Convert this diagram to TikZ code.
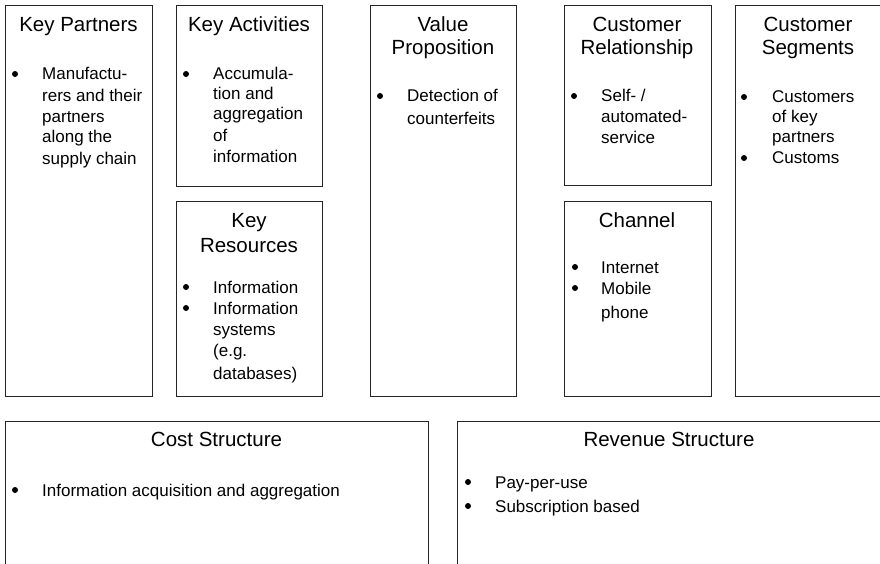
\documentclass[tikz,border=0pt]{standalone}
\usepackage{fontspec}
\setmainfont{Liberation Sans}
\begin{document}
\begin{tikzpicture}[x=1pt,y=-1pt,
  blockbox/.style={draw=black!85,line width=0.9pt},
  heading/.style={inner sep=0pt,anchor=base,font=\fontsize{20.5}{22}\selectfont},
  itemtext/.style={inner sep=0pt,anchor=base west,font=\fontsize{17}{19}\selectfont},
  bulletdot/.style={circle,fill=black,inner sep=0pt,minimum size=6pt}]
\useasboundingbox (0,0) rectangle (880,564);
\fill[white] (0,0) rectangle (880,564);
% boxes
\draw[blockbox] (5,5) rectangle (152,396);
\node (kp) at (78.5,200) {};
\draw[blockbox] (176,5) rectangle (322,186);
\node (ka) at (249,95) {};
\draw[blockbox] (176,201) rectangle (322,396);
\node (kr) at (249,300) {};
\draw[blockbox] (370,5) rectangle (516,396);
\node (vp) at (443,200) {};
\draw[blockbox] (564,5) rectangle (711,185);
\node (cr) at (637,95) {};
\draw[blockbox] (564,201) rectangle (711,396);
\node (ch) at (637,300) {};
\draw[blockbox] (735,5) rectangle (890,396);
\node (cs) at (812,200) {};
\draw[blockbox] (5,421) rectangle (428,580);
\node (cost) at (216,490) {};
\draw[blockbox] (457,421) rectangle (890,580);
\node (rev) at (670,490) {};
% Key Partners
\node[heading] (kpt) at (78.5,32) {Key Partners};
\node[bulletdot] (kpb1) at (15,74) {};
\node[itemtext] (kp1) at (42,80) {Manufactu-};
\node[itemtext] (kp2) at (42,102) {rers and their};
\node[itemtext] (kp3) at (42,123) {partners};
\node[itemtext] (kp4) at (42,143) {along the};
\node[itemtext] (kp5) at (42,165) {supply chain};
% Key Activities
\node[heading] (kat) at (249,32) {Key Activities};
\node[bulletdot] (kab1) at (186,74) {};
\node[itemtext] (ka1) at (213,80) {Accumula-};
\node[itemtext] (ka2) at (213,100) {tion and};
\node[itemtext] (ka3) at (213,120) {aggregation};
\node[itemtext] (ka4) at (213,142) {of};
\node[itemtext] (ka5) at (213,163) {information};
% Key Resources
\node[heading] (krt1) at (249,227) {Key};
\node[heading] (krt2) at (249,252) {Resources};
\node[bulletdot] (krb1) at (186,287) {};
\node[bulletdot] (krb2) at (186,308) {};
\node[itemtext] (kr1) at (213,293) {Information};
\node[itemtext] (kr2) at (213,314) {Information};
\node[itemtext] (kr3) at (213,335) {systems};
\node[itemtext] (kr4) at (213,356) {(e.g.};
\node[itemtext] (kr5) at (213,379) {databases)};
% Value Proposition
\node[heading] (vpt1) at (443,32) {Value};
\node[heading] (vpt2) at (443,55) {Proposition};
\node[bulletdot] (vpb1) at (380,96) {};
\node[itemtext] (vp1) at (407,102) {Detection of};
\node[itemtext] (vp2) at (407,125) {counterfeits};
% Customer Relationship
\node[heading] (crt1) at (637,32) {Customer};
\node[heading] (crt2) at (637,55) {Relationship};
\node[bulletdot] (crb1) at (574,96) {};
\node[itemtext] (cr1) at (601,102) {Self- /};
\node[itemtext] (cr2) at (601,123) {automated-};
\node[itemtext] (cr3) at (601,144) {service};
% Channel
\node[heading] (cht) at (637,227) {Channel};
\node[bulletdot] (chb1) at (575,267) {};
\node[bulletdot] (chb2) at (575,288) {};
\node[itemtext] (ch1) at (601,273) {Internet};
\node[itemtext] (ch2) at (601,294) {Mobile};
\node[itemtext] (ch3) at (601,318) {phone};
% Customer Segments
\node[heading] (cst1) at (808,32) {Customer};
\node[heading] (cst2) at (808,55) {Segments};
\node[bulletdot] (csb1) at (744,97) {};
\node[bulletdot] (csb2) at (744,158) {};
\node[itemtext] (cs1) at (772,103) {Customers};
\node[itemtext] (cs2) at (772,123) {of key};
\node[itemtext] (cs3) at (772,143) {partners};
\node[itemtext] (cs4) at (772,164) {Customs};
% Cost Structure
\node[heading] (costt) at (216.5,446) {Cost Structure};
\node[bulletdot] (costb1) at (15,490) {};
\node[itemtext] (cost1) at (42,496) {Information acquisition and aggregation};
% Revenue Structure
\node[heading] (revt) at (669,446) {Revenue Structure};
\node[bulletdot] (revb1) at (468,482) {};
\node[bulletdot] (revb2) at (468,506) {};
\node[itemtext] (rev1) at (495,488) {Pay-per-use};
\node[itemtext] (rev2) at (495,512) {Subscription based};
\end{tikzpicture}
\end{document}
